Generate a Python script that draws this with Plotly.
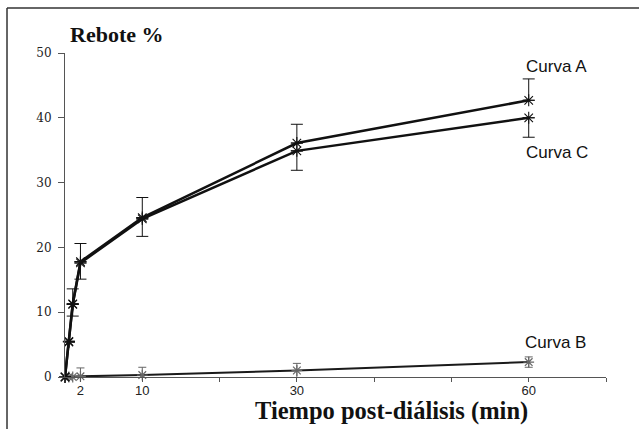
import plotly.graph_objects as go

# ---- data ----
time_min = [0, 0.5, 1, 2, 10, 30, 60]

curve_a = [0, 5.5, 11.3, 17.8, 24.6, 36.1, 42.7]
curve_a_err_up = [0, 0, 2.3, 2.8, 3.1, 2.9, 3.3]

curve_c = [0, 5.4, 11.2, 17.6, 24.4, 34.9, 40.0]
curve_c_err_down = [0, 0, 1.8, 2.5, 2.7, 3.0, 3.0]

curve_b = [0, 0, 0, 0.1, 0.3, 1.0, 2.3]
curve_b_err = [0, 0, 0, 1.3, 1.2, 1.1, 0.8]

x_tick_vals = [2, 10, 20, 30, 40, 50, 60, 70]
x_tick_text = ["2", "10", "", "30", "", "", "60", ""]
y_tick_vals = [0, 10, 20, 30, 40, 50]

fig = go.Figure()

fig.add_trace(go.Scatter(
    x=time_min, y=curve_b, mode="lines+markers",
    line=dict(color="#1a1a1a", width=2),
    marker=dict(symbol="asterisk", size=9, line=dict(color="#666666", width=1.2)),
    error_y=dict(type="data", array=curve_b_err, symmetric=True,
                 color="#666666", thickness=1, width=4),
    cliponaxis=False, showlegend=False))

fig.add_trace(go.Scatter(
    x=time_min, y=curve_c, mode="lines+markers",
    line=dict(color="#111111", width=2.5),
    marker=dict(symbol="asterisk", size=10, line=dict(color="#111111", width=1.1)),
    error_y=dict(type="data", array=[0] * len(curve_c), arrayminus=curve_c_err_down,
                 symmetric=False, color="#111111", thickness=1, width=6),
    cliponaxis=False, showlegend=False))

fig.add_trace(go.Scatter(
    x=time_min, y=curve_a, mode="lines+markers",
    line=dict(color="#111111", width=2.5),
    marker=dict(symbol="asterisk", size=10, line=dict(color="#111111", width=1.1)),
    error_y=dict(type="data", array=curve_a_err_up, arrayminus=[0] * len(curve_a),
                 symmetric=False, color="#111111", thickness=1, width=6),
    cliponaxis=False, showlegend=False))

fig.update_xaxes(
    range=[0, 70], tickmode="array", tickvals=x_tick_vals, ticktext=x_tick_text,
    ticks="outside", ticklen=4, tickwidth=1, tickcolor="#555555",
    showline=True, linecolor="#555555", linewidth=1,
    showgrid=False, zeroline=False, ticklabelstandoff=-3,
    tickfont=dict(family="Liberation Sans, Arial, sans-serif", size=13, color="#222222"))

fig.update_yaxes(
    range=[0, 50], tickmode="array", tickvals=y_tick_vals,
    ticks="outside", ticklen=6, tickwidth=1, tickcolor="#555555",
    showline=True, linecolor="#555555", linewidth=1,
    showgrid=False, zeroline=False, ticklabelstandoff=4,
    tickfont=dict(family="DejaVu Serif, serif", size=12, color="#222222"))

annotations = [
    dict(text="<b>Rebote %</b>", xref="paper", yref="paper", x=0.0055, y=1.0586,
         xanchor="left", yanchor="middle", showarrow=False,
         font=dict(family="Liberation Serif, Times New Roman, serif", size=22, color="#111111")),
    dict(text="<b>Tiempo post-diálisis (min)</b>", xref="paper", yref="paper",
         x=0.604, y=-0.105, xanchor="center", yanchor="middle", showarrow=False,
         font=dict(family="Liberation Serif, Times New Roman, serif", size=24.5, color="#111111")),
    dict(text="Curva A", xref="x", yref="y", x=63.6, y=47.9, showarrow=False,
         xanchor="center", yanchor="middle",
         font=dict(family="Liberation Sans, Arial, sans-serif", size=17, color="#111111")),
    dict(text="Curva C", xref="x", yref="y", x=63.6, y=34.6, showarrow=False,
         xanchor="center", yanchor="middle",
         font=dict(family="Liberation Sans, Arial, sans-serif", size=17, color="#111111")),
    dict(text="Curva B", xref="x", yref="y", x=63.5, y=5.4, showarrow=False,
         xanchor="center", yanchor="middle",
         font=dict(family="Liberation Sans, Arial, sans-serif", size=17, color="#111111")),
]

shapes = [
    # page frame (left and top edges)
    dict(type="line", xref="paper", yref="paper", x0=-0.1072, x1=-0.1072, y0=1.1389, y1=-0.17,
         line=dict(color="#333333", width=1.5)),
    dict(type="line", xref="paper", yref="paper", x0=-0.1072, x1=1.07, y0=1.1389, y1=1.1389,
         line=dict(color="#333333", width=1.5)),
]

fig.update_layout(
    width=639, height=429,
    margin=dict(l=65, r=33, t=53, b=52),
    plot_bgcolor="white", paper_bgcolor="white",
    annotations=annotations, shapes=shapes,
)

fig.write_html(
    "out.html",
    config={"displayModeBar": False},
    post_script="document.body.style.margin='0';document.body.style.padding='0';",
)
